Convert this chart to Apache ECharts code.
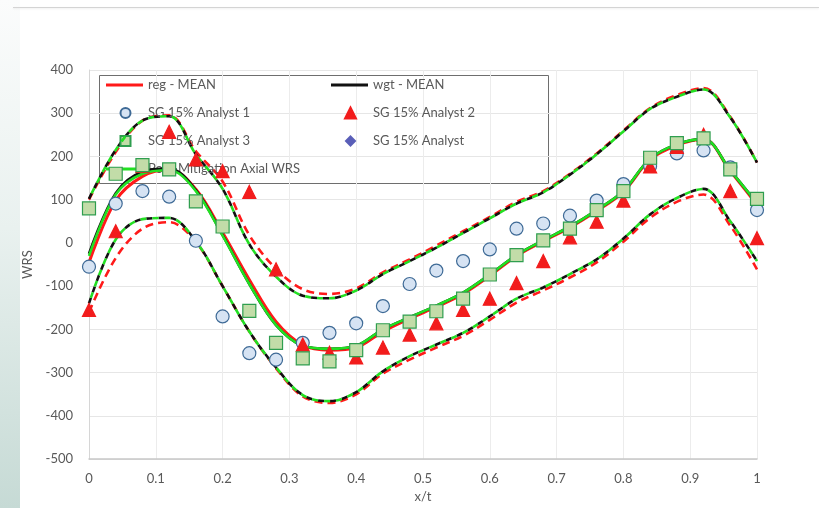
<!DOCTYPE html>
<html>
<head>
<meta charset="utf-8">
<script src="https://cdn.jsdelivr.net/npm/echarts@6/dist/echarts.min.js"></script>
<style>
  html, body { margin: 0; padding: 0; background: #ffffff; }
  #wrap { position: relative; width: 819px; height: 508px; overflow: hidden; background: #ffffff; }
  #side { position: absolute; left: 0; top: 0; width: 20px; height: 508px;
          background: linear-gradient(to bottom, #fbfcfc 0%, #e9f1ef 45%, #c6dad5 100%); }
  #topline { position: absolute; left: 13px; top: 7px; right: 0; height: 1px; background: #d4d4d4;
             box-shadow: 0 1px 2px rgba(0,0,0,0.08); }
  #chart { position: absolute; left: 0; top: 0; width: 819px; height: 508px; }
</style>
</head>
<body>
<div id="wrap">
  <div id="side"></div>
  <div id="topline"></div>
  <div id="chart"></div>
</div>
<script>
// Normalised through-wall position x/t shared by every series
const xPos = [0, 0.04, 0.08, 0.12, 0.16, 0.2, 0.24, 0.28, 0.32, 0.36, 0.4, 0.44, 0.48,
              0.52, 0.56, 0.6, 0.64, 0.68, 0.72, 0.76, 0.8, 0.84, 0.88, 0.92, 0.96, 1];

// Mean weld residual stress curves
const regMean  = [-45, 98, 154, 170, 124, 24, -85, -182, -236, -248, -242, -205, -175, -148, -118, -76, -30, 4, 36, 74, 118, 193, 226, 240, 166, 88];
const wgtMean  = [-25, 115, 165, 172, 122, 18, -95, -190, -238, -245, -238, -200, -172, -145, -115, -73, -28, 6, 38, 76, 120, 195, 228, 240, 168, 92];
const postMean = [-30, 112, 160, 168, 120, 17, -95, -190, -238, -245, -238, -200, -172, -145, -115, -73, -28, 6, 38, 76, 120, 195, 228, 240, 168, 92];

// Upper / lower bounds
const regUpper = [100, 210, 283, 295, 212, 142, 18, -60, -107, -118, -105, -68, -38, -6, 27, 60, 95, 120, 160, 207, 260, 312, 342, 358, 292, 186];
const regLower = [-160, -35, 33, 48, 2, -100, -205, -290, -355, -370, -350, -302, -270, -242, -215, -178, -138, -110, -80, -45, 3, 58, 95, 112, 40, -61];
const wgtUpper = [102, 215, 283, 293, 205, 125, -3, -78, -122, -128, -110, -72, -42, -11, 23, 57, 91, 117, 158, 205, 258, 310, 338, 355, 290, 186];
const wgtLower = [-140, 8, 55, 58, 4, -100, -205, -288, -352, -366, -345, -297, -262, -235, -208, -170, -129, -103, -72, -38, 10, 66, 104, 125, 50, -42];

// Individual analyst results
const analyst1 = [-55, 91, 120, 107, 5, -170, -255, -270, -231, -208, -186, -146, -95, -64, -42, -15, 33, 45, 63, 98, 136, 178, 207, 214, 175, 76];
const analyst2 = [-155, 27, 178, 257, 193, 166, 118, -61, -235, -254, -265, -242, -212, -186, -155, -129, -93, -42, 13, 49, 98, 177, 222, 250, 120, 11];
const analyst3 = [80, 160, 180, 170, 96, 38, -157, -231, -267, -274, -248, -202, -182, -158, -129, -73, -28, 6, 33, 76, 120, 197, 231, 242, 170, 102];
const analyst  = [];

// Axis ticks
const yMin = -500, yMax = 400, yStep = 100;
const xMin = 0, xMax = 1, xStep = 0.1;

const pairs = ys => ys.map((y, i) => [xPos[i], y]);

const FONT = 'Lato';
const TXT = '#595959';

function curve(name, data, color, width, dash, offset, z) {
  return {
    name, type: 'line', data: pairs(data), smooth: 0.35, symbol: 'none',
    z, silent: true,
    lineStyle: { color, width, type: dash || 'solid', dashOffset: offset || 0 },
    itemStyle: { color }
  };
}

function marks(name, data, symbol, size, fill, stroke, z) {
  return {
    name, type: 'scatter', data: pairs(data), symbol, symbolSize: size, z,
    itemStyle: { color: fill, borderColor: stroke, borderWidth: 1.2, opacity: 1 }
  };
}

// Legend entries: line swatches are 37 px wide, marker swatches are square
// and centred in the same 37 px slot, with the label shifted to line up.
function lineKey(name, left, top) {
  return {
    data: [{ name, icon: 'rect' }], left, top, padding: 0,
    itemWidth: 37, itemHeight: 3, selectedMode: false,
    textStyle: { fontFamily: FONT, fontSize: 13, color: TXT, lineHeight: 14 }
  };
}
function markKey(name, icon, left, top, size) {
  return {
    data: [{ name, icon }], left: left + (37 - size) / 2, top, padding: 0,
    itemWidth: size, itemHeight: size, selectedMode: false,
    textStyle: { fontFamily: FONT, fontSize: 13, color: TXT, lineHeight: 14,
                 padding: [0, 0, 0, (37 - size) / 2 - 1] }
  };
}

const chart = echarts.init(document.getElementById('chart'), null, { renderer: 'canvas' });

chart.setOption({
  animation: false,
  textStyle: { fontFamily: FONT, color: TXT },
  grid: { left: 89, right: 62, top: 70, bottom: 43, containLabel: false },
  xAxis: {
    type: 'value', min: xMin, max: xMax, interval: xStep,
    name: 'x/t', nameLocation: 'middle', nameGap: 27,
    nameTextStyle: { fontFamily: FONT, fontSize: 13, color: TXT },
    axisLine: { show: true, onZero: false, lineStyle: { color: '#c8c8c8', width: 1.5 } },
    axisTick: { show: false },
    axisLabel: { margin: 13, fontFamily: FONT, fontSize: 13, color: TXT,
                 formatter: v => String(+v.toFixed(1)) },
    splitLine: { show: true, lineStyle: { color: '#ececec', width: 1 } }
  },
  yAxis: {
    type: 'value', min: yMin, max: yMax, interval: yStep,
    name: 'WRS', nameLocation: 'middle', nameGap: 52, nameRotate: 90,
    nameTextStyle: { fontFamily: FONT, fontSize: 13, color: TXT },
    axisLine: { show: true, lineStyle: { color: '#d6d6d6', width: 1 } },
    axisTick: { show: false },
    axisLabel: { margin: 16, fontFamily: FONT, fontSize: 13, color: TXT },
    splitLine: { show: true, lineStyle: { color: '#e6e6e6', width: 1 } }
  },
  legend: [
    lineKey('reg - MEAN', 106, 78),
    markKey('SG 15% Analyst 1', 'circle', 106, 106, 10),
    markKey('SG 15% Analyst 3', 'rect', 106, 134, 10),
    lineKey('Post-Mitigation Axial WRS', 106, 162),
    lineKey('wgt - MEAN', 331, 78),
    markKey('SG 15% Analyst 2', 'triangle', 331, 106, 11),
    markKey('SG 15% Analyst', 'diamond', 331, 134, 9)
  ],
  graphic: [
    { type: 'rect', left: 97, top: 73, z: 0, silent: true,
      shape: { width: 449, height: 108 },
      style: { fill: 'none', stroke: '#6e6e6e', lineWidth: 1 } }
  ],
  series: [
    curve('reg - UB', regUpper, '#ff1a1a', 2.6, [8, 5], 0, 2),
    curve('reg - LB', regLower, '#ff1a1a', 2.6, [8, 5], 0, 2),
    curve('wgt - UB', wgtUpper, '#111111', 2.6, [6, 6], 0, 3),
    curve('wgt - LB', wgtLower, '#111111', 2.6, [6, 6], 0, 3),
    curve('Post-Mitigation UB', wgtUpper, '#22e022', 2.6, [6, 6], 6, 4),
    curve('Post-Mitigation LB', wgtLower, '#22e022', 2.6, [6, 6], 6, 4),
    curve('reg - MEAN', regMean, '#ff1a1a', 3, null, 0, 5),
    curve('wgt - MEAN', wgtMean, '#111111', 2.6, null, 0, 6),
    curve('Post-Mitigation Axial WRS', postMean, '#22e022', 2.6, null, 0, 7),
    marks('SG 15% Analyst 1', analyst1, 'circle', 13, '#d6e3f3', '#3e6a96', 10),
    marks('SG 15% Analyst 2', analyst2, 'triangle', 13, '#f21c1c', '#f21c1c', 11),
    marks('SG 15% Analyst 3', analyst3, 'rect', 13, '#c2dca8', '#2f9e4f', 12),
    marks('SG 15% Analyst', analyst, 'diamond', 11, '#5a5fb8', '#5a5fb8', 13)
  ]
});
</script>
</body>
</html>
